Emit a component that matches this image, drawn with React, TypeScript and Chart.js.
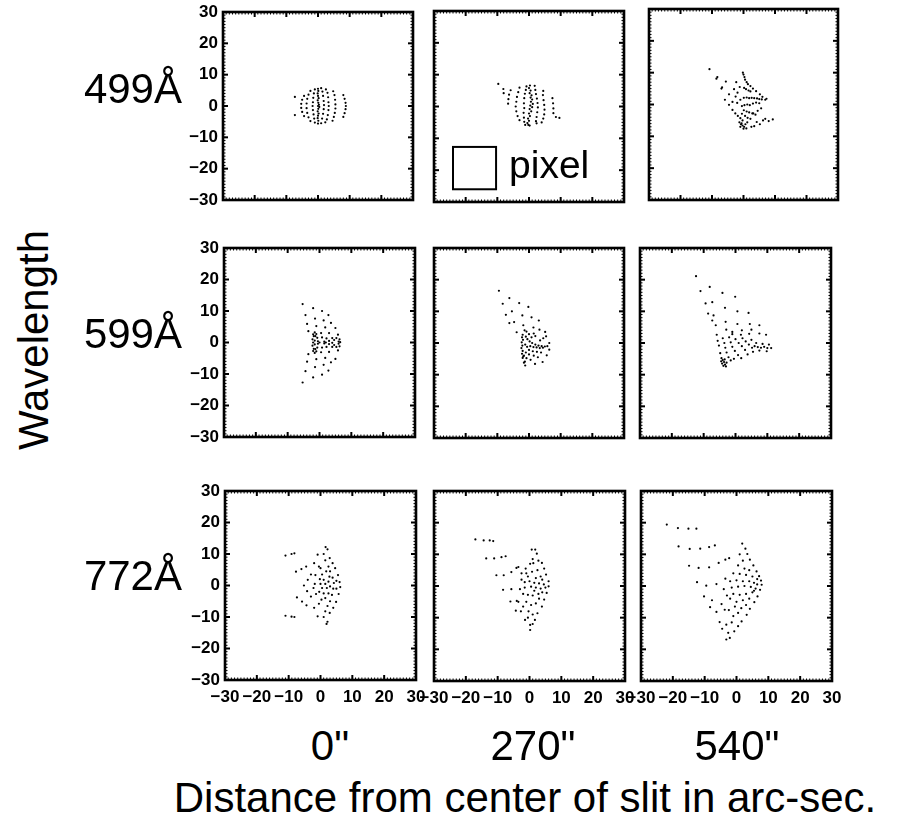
import React, { useEffect, useRef } from "react";
import { Chart, registerables } from "chart.js";
Chart.register(...registerables);

// ---------- labels ----------
const ROW_LABELS = ["499Å", "599Å", "772Å"];
const COL_LABELS = ['0"', '270"', '540"'];
const Y_TITLE = "Wavelength";
const X_TITLE = "Distance from center of slit in arc-sec.";
const TICK_VALUES = [-30, -20, -10, 0, 10, 20, 30];
const TICK_LABELS = ["−30", "−20", "−10", "0", "10", "20", "30"];
const PIXEL_LABEL = "pixel";
const PIXEL_BOX = [-24, -12.7, -10.4, -26]; // x0, y0, x1, y1 in arc-sec
const PIXEL_TEXT = [-6.3, -22.5];

// ---------- spot data (arc-sec) ----------
const P499_0 = [
  [8.0, 3.5], [8.4, 2.3], [8.7, 1.0], [8.8, 0], [8.7, -1.0], [8.4, -2.3], [8.0, -3.5],
  [4.8, 4.7], [5.2, 3.5], [5.4, 2.0], [5.5, 0.5], [5.5, -0.8], [5.3, -2.2], [5.0, -3.5], [4.6, -4.7],
  [2.5, 5.3], [3.0, 4.2], [3.2, 2.8], [3.3, 1.2], [3.4, 0], [3.3, -1.3], [3.1, -2.9], [2.8, -4.3], [2.3, -5.2],
  [1.0, 5.7], [1.4, 4.6], [1.6, 3.2], [1.8, 1.6], [1.9, 0.3], [1.8, -1.0], [1.6, -2.5], [1.3, -4.0], [1.0, -5.5],
  [0, 5.5], [0.1, 4.8], [-0.1, 4.0], [0, 3.2], [0.2, 2.5], [-0.1, 1.8], [0.1, 1.0], [0.3, 0.4], [0, 0], [0.4, -0.3],
  [0.1, -0.9], [-0.1, -1.7], [0.2, -2.4], [0, -3.1], [-0.1, -3.9], [0.1, -4.7], [0, -5.6],
  [-1.0, 5.3], [-1.3, 4.0], [-1.5, 2.6], [-1.6, 1.2], [-1.7, 0], [-1.6, -1.3], [-1.4, -2.7], [-1.2, -4.0], [-1.0, -5.3],
  [-2.4, 4.8], [-3.0, 3.6], [-3.4, 2.3], [-3.6, 0.8], [-3.6, -0.7], [-3.4, -2.2], [-3.0, -3.6], [-2.4, -4.8],
  [-4.4, 3.2], [-5.0, 2.0], [-5.3, 0.7], [-5.3, -0.6], [-5.0, -1.9], [-4.4, -3.2],
  [-7.3, 2.9], [-7.3, -2.9],
];

const P499_270 = [
  [0.3, 6.6], [0.0, 5.8], [0.5, 5.0], [0.2, 4.2], [0.8, 3.5], [0.5, 2.8], [1.0, 2.2], [0.6, 1.5], [1.2, 0.8], [0.4, 0.3],
  [1.0, -0.2], [0.2, -0.8], [0.7, -1.5], [0.0, -2.2], [0.3, -3.0], [-0.3, -3.8], [0.0, -4.5], [-0.5, -5.2], [-0.2, -5.8], [0.2, -6.0],
  [-0.8, 6.3], [-1.0, 5.2], [-1.3, 4.0], [-1.5, 2.6], [-1.6, 1.0], [-1.5, -0.5], [-1.7, -2.0], [-1.6, -3.5], [-1.5, -4.8], [-1.2, -5.8],
  [1.8, 6.5], [2.0, 5.2], [2.2, 3.9], [2.5, 2.5], [2.7, 1.1], [2.8, -0.3], [2.6, -1.8], [2.4, -3.3], [2.2, -4.6], [2.4, -5.3],
  [4.5, 4.9], [4.4, 3.6], [4.6, 2.0], [4.8, 0.5], [4.9, -1.0], [4.8, -2.5], [4.5, -3.8], [4.0, -5.0],
  [7.4, 2.6], [7.6, 1.0], [7.7, -0.6], [7.7, -2.1], [8.5, -3.3], [9.6, -3.6],
  [-3.0, 5.9], [-3.4, 4.5], [-3.8, 3.0], [-4.0, 1.5], [-4.2, 0], [-4.0, -1.5], [-3.6, -3.0], [-3.0, -4.3],
  [-5.8, 5.1], [-6.3, 3.7], [-6.5, 2.3], [-6.6, 0.9], [-8.1, 5.5], [-8.0, 4.2], [-9.7, 7.1],
];

const P499_540 = [
  [-0.2, 10.0], [0.0, 9.4], [0.3, 8.6], [0.5, 7.8], [1.0, 7.0],
  [-10.8, 11.1], [-8.6, 8.1], [-8.3, 8.6], [-5.6, 7.2], [-2.3, 7.0], [-7.0, 5.0], [-6.8, 5.4], [-4.6, 3.2], [-5.9, 1.5],
  [-1.9, 3.7], [-3.5, 0.8], [-2.0, 0.5],
  [1.4, 6.4], [2.2, 5.8], [3.0, 5.0], [4.0, 4.2], [5.2, 3.2], [6.0, 2.4], [6.9, 1.5], [7.3, 1.8],
  [0.1, 2.1], [1.0, 2.2], [1.8, 2.0], [2.6, 2.1], [3.4, 2.0], [4.3, 1.9], [5.0, 1.7], [5.8, 1.6],
  [0.2, 5.2], [0.8, 4.8], [1.6, 4.4], [2.2, 4.1],
  [-0.5, -0.5], [0.3, -0.2], [1.2, 0.0], [2.0, -0.2], [3.0, 0.3], [4.0, 0.6], [5.0, 0.4],
  [-4.6, -0.1], [-3.5, -1.7], [-2.6, -2.8], [-1.8, -3.6], [-1.0, -4.3], [-0.3, -5.0],
  [0.1, -1.8], [1.0, -2.2], [1.8, -2.5], [2.8, -2.8], [3.8, -3.2], [-0.5, -2.9], [0.5, -3.6], [1.3, -4.2], [2.2, -4.5],
  [-1.3, -5.6], [-0.8, -6.2], [-0.3, -6.6], [0.2, -7.0], [0.9, -7.5], [-1.0, -7.0], [0.0, -7.6], [-0.6, -5.9], [0.6, -6.2], [1.2, -5.6],
  [2.5, -7.0], [3.4, -6.8], [5.2, -6.2], [6.2, -5.0], [6.9, -4.5], [8.0, -5.2], [9.3, -4.7], [4.2, -5.5], [3.1, -2.8], [4.5, -2.0], [5.6, -1.2],
  [-2.5, 2.5], [-1.0, 1.5], [-3.0, 4.8], [-1.2, 5.5],
];

const P599_0 = [
  [-5.3, 12.2], [-2.0, 10.9], [0.8, 10.0], [2.8, 8.7], [-4.4, 8.7], [-1.4, 7.6], [1.3, 7.0], [3.6, 6.2], [-3.9, 5.9], [-1.0, 5.2],
  [1.8, 4.8], [5.0, 4.6], [-3.5, 3.6], [-1.5, 3.2], [0.5, 3.0], [3.0, 3.0], [5.8, 2.5], [-2.0, 2.6], [-1.3, 2.0], [-0.7, 1.5],
  [0.8, 1.6], [2.2, 1.3], [4.0, 1.4], [5.3, 1.4], [6.3, 1.0], [-2.2, 1.0], [-1.5, 0.6], [-0.5, 0.4], [1.5, 0.3], [3.0, 0.5], [6.0, 0.3], [4.6, 0.8],
  [-5.3, -12.7], [-2.0, -11.1], [0.8, -10.2], [2.8, -8.9], [-4.4, -9.1], [-1.4, -7.8], [1.3, -7.1], [3.6, -6.3], [-3.9, -6.1], [-1.0, -5.3],
  [1.8, -4.9], [5.0, -5.2], [-3.5, -3.7], [-1.5, -3.3], [0.5, -3.1], [3.0, -3.0], [5.8, -2.5], [-2.0, -2.7], [-1.3, -2.1], [-0.7, -1.6],
  [0.8, -1.6], [2.2, -1.4], [4.0, -1.4], [5.3, -1.4], [6.3, -1.2], [-2.2, -1.0], [-1.5, -0.6], [-0.5, -0.4], [1.5, -0.3], [3.0, -0.5], [6.0, -0.4], [4.6, -0.8],
  [-2.0, 0], [0.0, 0], [2.0, 0], [4.0, -0.1], [6.5, 0.1], [-1.8, 2.0], [-1.8, -2.0], [-1.0, 2.7], [-1.0, -2.8],
];

const P599_270 = [
  [-9.5, 16.5], [-6.2, 14.2], [-8.3, 12.4], [-3.1, 12.6], [-0.2, 11.4], [-7.3, 8.9], [-5.4, 10.0], [-2.1, 8.7], [0.8, 8.1], [3.1, 7.1],
  [-6.2, 6.3], [-4.7, 6.6], [-1.8, 5.6], [1.4, 4.9], [3.3, 4.2], [-3.9, 3.4], [5.1, 3.5], [5.4, 2.1], [6.4, 0.0], [6.4, -2.1],
  [5.6, -3.9], [4.3, -6.0], [1.9, -6.6], [-1.2, -7.1],
  [-2.0, 2.6], [-2.2, 1.8], [-1.9, 1.0], [-2.3, 0.2], [-2.1, -0.8], [-2.4, -1.6], [-2.0, -2.5], [-2.2, -3.4], [-1.8, -4.2], [-2.0, -4.7], [-1.6, -4.0],
  [-1.0, 2.0], [-0.5, 1.2], [0.2, 0.5], [1.0, 0.0], [2.0, -0.5], [3.0, -0.8], [4.0, -1.0], [5.0, -1.1], [5.8, -1.0],
  [-1.2, -0.5], [-0.6, -1.2], [0.4, -1.0], [1.4, -1.3], [2.4, -1.4], [3.4, -1.6], [4.4, -1.5],
  [0.0, -2.2], [1.2, -2.6], [2.5, -2.8], [3.8, -3.0], [-1.0, -3.0], [0.0, -3.6], [1.5, -4.0], [2.8, -4.5],
  [-0.8, -4.8], [0.5, -5.3], [-1.3, -5.9], [-1.6, -6.2], [0.8, 1.8], [2.0, 2.2], [3.5, 0.8], [4.5, 1.5],
  [0.0, 2.8], [1.5, 3.0], [-0.8, 3.6], [-1.4, 4.0],
];

const P599_540 = [
  [-12.4, 21.1], [-11.0, 16.4], [-8.1, 17.7], [-9.4, 12.5], [-7.3, 12.9], [-4.1, 15.8], [-0.1, 14.6], [-8.6, 9.3], [-6.9, 8.7],
  [-3.3, 11.1], [0.6, 10.0], [4.1, 9.5], [-7.3, 7.1], [-6.2, 5.6], [-3.1, 6.7], [0.6, 6.0], [4.5, 6.0], [7.5, 5.6],
  [-2.9, 4.2], [-1.0, 3.5], [1.7, 2.6], [4.3, 2.9], [7.5, 3.0], [9.6, 2.6], [-5.9, 2.6], [-5.6, 0.7], [-5.2, -0.8], [-4.8, -3.2],
  [-4.4, -4.8], [-4.0, -5.4], [-3.6, -6.0], [-4.2, -6.5], [-3.3, -6.8], [-3.8, -7.2], [-3.0, -7.4], [-4.5, -5.8], [-2.8, -6.2], [-3.4, -5.2],
  [-4.0, 1.5], [-3.5, 0.0], [-3.2, -1.5], [-2.8, -3.0], [-2.2, -4.5], [-1.5, -5.5], [-0.5, -5.0],
  [-2.0, 1.8], [-1.5, 0.2], [-1.0, -1.2], [-0.2, -2.5], [0.8, -3.8], [0.0, 1.2], [1.0, 0.0], [2.0, -1.0], [3.0, -2.2],
  [2.2, 1.5], [3.2, 0.5], [4.2, -0.5], [5.2, -1.5], [6.0, -1.0], [7.0, -1.3], [8.0, -1.5], [9.0, -1.2], [10.0, -1.6], [11.2, -1.6],
  [10.5, -0.5], [8.5, -0.3], [6.5, 0.0], [5.0, 1.0], [9.8, -2.6], [7.5, -2.4], [5.5, -2.8], [3.8, -3.6], [1.8, -4.8],
  [-1.0, 2.8], [2.0, 4.0], [5.0, 4.2],
];

const P772_0 = [
  [-11.0, 9.5], [-9.1, 10.0], [-8.2, 10.2], [-11.0, -9.6], [-9.1, -9.9], [-8.2, -10.0],
  [-7.7, 4.4], [-6.0, 5.2], [-4.5, 6.0], [-7.4, -3.8], [-5.8, -5.1], [-4.4, -6.3], [-5.2, 0.0], [-4.0, 1.8], [-4.2, -1.8], [-3.0, 3.5], [-3.0, -3.5],
  [-0.9, 9.8], [-0.9, -9.8], [-2.0, 7.1], [-2.0, -7.1], [-1.6, 3.3], [-1.4, -2.7], [-1.8, 0.5], [-2.2, -0.8],
  [1.6, 12.2], [2.2, 11.5], [2.9, 8.7], [3.8, 7.1], [4.6, 5.5], [5.5, 3.3], [6.0, 1.1], [6.2, -0.5], [5.7, -2.7], [4.9, -5.2],
  [4.0, -7.1], [2.9, -8.7], [2.2, -11.5], [1.9, -12.2],
  [1.0, 10.0], [1.5, 8.0], [2.5, 6.0], [3.0, 4.5], [3.8, 2.5], [4.2, 0.8], [4.0, -1.0], [3.6, -3.0], [3.0, -5.0], [2.2, -6.5], [1.5, -8.2], [1.0, -10.0],
  [0.0, 5.5], [0.5, 3.5], [1.0, 1.8], [1.5, 0.5], [2.0, -0.8], [1.0, -2.5], [0.3, -4.5], [-0.5, 6.0], [0.0, 0.5], [0.5, -0.8],
  [2.5, 1.2], [3.0, -0.3], [2.8, 2.8], [2.5, -2.5], [-0.5, -5.8], [5.0, 1.5], [5.0, -1.0], [-0.2, 2.0], [-0.4, -2.0], [1.8, 4.5], [1.5, -4.0],
];

const P772_270 = [
  [-17.0, 14.7], [-14.4, 14.4], [-12.5, 14.4], [-11.4, 14.2], [-13.6, 8.7], [-11.1, 8.7], [-8.8, 9.1], [-7.5, 9.4],
  [-10.4, 3.4], [-8.1, 3.4], [-5.7, 4.4], [-4.1, 5.7], [-3.5, 6.0], [-8.3, -1.2], [-5.7, -1.0], [-6.0, -4.9], [-4.0, -4.7], [-3.5, -5.0],
  [-4.3, -7.8], [-2.7, -8.0], [-1.4, -10.7], [0.2, -12.3], [0.2, -13.9], [0.7, 11.5], [1.8, 11.5], [2.3, 10.2], [0.2, 7.0], [1.2, 7.2],
  [3.9, 7.3], [4.6, 5.5], [5.2, 3.6], [6.0, 1.5], [6.0, -0.1], [5.4, -2.2], [4.6, -4.3], [3.9, -6.5], [2.5, -8.6], [1.7, -10.7], [1.0, -12.0],
  [-1.0, 4.0], [-0.5, 3.0], [0.8, 4.5], [2.5, 5.0], [3.5, 3.0], [-2.5, 2.0], [-1.5, 1.2], [0.0, 1.5], [1.5, 1.0], [3.0, 0.8], [4.5, 0.5],
  [-3.0, -1.0], [-1.5, -0.5], [0.5, -0.2], [2.0, -0.5], [3.5, -0.8], [5.0, -0.5], [-2.0, -2.5], [-0.5, -2.8], [1.0, -3.0], [2.8, -2.5],
  [4.0, -2.0], [-1.0, -5.0], [0.5, -6.0], [2.0, -5.5], [3.0, -4.0], [-0.3, -8.0], [1.0, -9.0], [-2.0, -6.5], [2.0, 2.5], [4.0, 2.0],
  [1.5, -1.5], [-1.2, 5.5], [-2.5, 4.0], [1.0, 8.5], [2.8, 8.0], [-0.5, -10.0],
];

const P772_540 = [
  [-21.9, 19.4], [-18.4, 18.3], [-15.1, 18.1], [-12.6, 18.1], [-18.2, 12.5], [-14.7, 11.7], [-11.4, 11.8], [-8.6, 12.3], [-6.8, 12.8],
  [-14.9, 6.4], [-11.9, 5.7], [-8.6, 5.9], [-5.6, 7.3], [-3.5, 8.3], [-2.3, 8.8], [-12.4, 1.2], [-9.5, 0.1], [-6.3, 0.6], [-3.5, 2.3],
  [-10.2, -3.3], [-7.7, -4.5], [-8.3, -6.7], [-6.3, -8.2], [-4.7, -5.7], [-3.7, -7.5], [-2.4, -7.6], [-5.3, -11.4], [-4.5, -13.5],
  [-3.2, -12.2], [-2.6, -14.8], [-3.2, -16.9], [-2.1, -16.4],
  [1.8, 13.4], [2.8, 11.8], [3.4, 10.1], [4.2, 8.3], [5.3, 6.5], [6.3, 4.6], [7.1, 3.1], [7.7, 1.7], [7.9, 0.4], [7.4, -1.2],
  [6.6, -3.3], [5.6, -5.1], [4.2, -7.2], [3.2, -9.1], [1.6, -11.2], [0.5, -12.7], [-0.7, -14.3],
  [1.0, 10.0], [2.0, 8.0], [0.5, 6.5], [2.5, 5.5], [4.0, 5.0], [-1.0, 4.0], [1.0, 3.8], [3.0, 3.5], [5.0, 3.0], [-2.0, 1.5],
  [0.0, 1.8], [2.0, 1.5], [4.0, 1.5], [5.5, 1.0], [6.5, 0.5], [-4.0, -1.0], [-1.5, -0.5], [0.5, -0.2], [2.5, 0.0], [4.5, -0.3],
  [6.0, -0.8], [-1.0, -2.5], [1.0, -2.8], [3.0, -2.5], [5.0, -2.0], [-2.0, -4.0], [0.0, -5.0], [2.0, -4.5], [4.0, -4.0],
  [-1.0, -9.5], [0.5, -8.5], [1.5, -7.0], [-1.5, -11.5], [-0.5, -6.5], [3.0, -6.0], [-3.0, -3.0], [6.5, 2.2], [5.5, -1.5],
];

const GRID_DATA = [
  [P499_0, P499_270, P499_540],
  [P599_0, P599_270, P599_540],
  [P772_0, P772_270, P772_540],
];

// ---------- layout (page pixels): left, top, width, height of each plot box ----------
const BOXES = [
  [[223, 12, 190, 188], [434, 11, 190, 191], [649, 9, 189, 191]],
  [[224, 248, 191, 189], [434, 248, 190, 190], [640, 248, 191, 190]],
  [[225, 491, 191, 189], [434, 491, 191, 190], [641, 491, 191, 190]],
];
const ROW_BASELINES = [103, 348, 590];
const COL_CENTERS = [330, 533, 737];

const TICK_FONT = { family: "'Liberation Sans', Arial, sans-serif", size: 17, weight: "bold" as const };
const BIG_FONT = "'Liberation Sans', Arial, Helvetica, sans-serif";

const framePlugin = {
  id: "frame",
  afterDatasetsDraw(chart: any) {
    const { ctx, chartArea: a, scales } = chart;
    const xs = scales.x, ys = scales.y;
    ctx.save();
    ctx.strokeStyle = "#000";
    ctx.lineCap = "butt";
    const seg = (x1: number, y1: number, x2: number, y2: number) => {
      ctx.beginPath(); ctx.moveTo(x1, y1); ctx.lineTo(x2, y2); ctx.stroke();
    };
    // minor ticks
    ctx.lineWidth = 1;
    for (let v = -30; v <= 30; v += 1) {
      const px = xs.getPixelForValue(v), py = ys.getPixelForValue(v);
      seg(px, a.bottom, px, a.bottom - 2.5); seg(px, a.top, px, a.top + 2.5);
      seg(a.left, py, a.left + 2.5, py); seg(a.right, py, a.right - 2.5, py);
    }
    // major ticks
    ctx.lineWidth = 2;
    TICK_VALUES.forEach((v) => {
      const px = xs.getPixelForValue(v), py = ys.getPixelForValue(v);
      seg(px, a.bottom, px, a.bottom - 5); seg(px, a.top, px, a.top + 5);
      seg(a.left, py, a.left + 5, py); seg(a.right, py, a.right - 5, py);
    });
    ctx.lineWidth = 2.6;
    ctx.strokeRect(a.left, a.top, a.right - a.left, a.bottom - a.top);
    ctx.restore();
  },
};

const pixelLegendPlugin = {
  id: "pixelLegend",
  afterDatasetsDraw(chart: any) {
    const { ctx, scales } = chart;
    const xs = scales.x, ys = scales.y;
    const x0 = xs.getPixelForValue(PIXEL_BOX[0]), y0 = ys.getPixelForValue(PIXEL_BOX[1]);
    const x1 = xs.getPixelForValue(PIXEL_BOX[2]), y1 = ys.getPixelForValue(PIXEL_BOX[3]);
    ctx.save();
    ctx.strokeStyle = "#000";
    ctx.lineWidth = 2;
    ctx.strokeRect(x0, y0, x1 - x0, y1 - y0);
    ctx.fillStyle = "#000";
    ctx.font = `39px ${BIG_FONT}`;
    ctx.textBaseline = "alphabetic";
    ctx.textAlign = "left";
    ctx.fillText(PIXEL_LABEL, xs.getPixelForValue(PIXEL_TEXT[0]), ys.getPixelForValue(PIXEL_TEXT[1]));
    ctx.restore();
  },
};

function Panel({ pts, box, showY, showX, legend }: any) {
  const ref = useRef<HTMLCanvasElement>(null);
  const padL = showY ? 52 : 22, padR = 22, padT = 10, padB = showX ? 36 : 8;
  const [bl, bt, bw, bh] = box;
  const W = bw + padL + padR, H = bh + padT + padB;
  useEffect(() => {
    const setTicks = (s: any) => { s.ticks = TICK_VALUES.map((v) => ({ value: v })); };
    const chart = new Chart(ref.current as HTMLCanvasElement, {
      type: "scatter",
      data: {
        datasets: [{
          data: pts.map((p: number[]) => ({ x: p[0], y: p[1] })),
          pointRadius: 1.1,
          pointHoverRadius: 1.1,
          backgroundColor: "#000",
          borderWidth: 0,
        }],
      },
      options: {
        responsive: false,
        animation: false,
        events: [],
        layout: { autoPadding: false, padding: { left: showY ? 0 : padL, right: padR, top: padT, bottom: showX ? 0 : padB } },
        plugins: { legend: { display: false }, tooltip: { enabled: false }, title: { display: false } },
        scales: {
          x: {
            type: "linear", min: -30, max: 30, display: showX, position: "bottom",
            grid: { display: false, drawTicks: false }, border: { display: false },
            afterBuildTicks: setTicks,
            ticks: { autoSkip: false, maxRotation: 0, minRotation: 0, padding: 7, color: "#000", font: TICK_FONT,
              callback: (_v: any, i: number) => TICK_LABELS[i] },
            afterFit: (s: any) => { if (showX) { s.height = padB; s.paddingLeft = 0; s.paddingRight = 0; } },
          },
          y: {
            type: "linear", min: -30, max: 30, display: showY, position: "left",
            grid: { display: false, drawTicks: false }, border: { display: false },
            afterBuildTicks: setTicks,
            ticks: { autoSkip: false, padding: 5, color: "#000", font: TICK_FONT,
              callback: (_v: any, i: number) => TICK_LABELS[i] },
            afterFit: (s: any) => { if (showY) { s.width = padL; s.paddingTop = 0; s.paddingBottom = 0; } },
          },
        },
      } as any,
      plugins: legend ? [framePlugin, pixelLegendPlugin] : [framePlugin],
    });
    return () => chart.destroy();
  }, []);
  return (
    <canvas ref={ref} width={W} height={H}
      style={{ position: "absolute", left: bl - padL, top: bt - padT, width: W, height: H }} />
  );
}

function BigText({ x, baseline, text, align }: any) {
  const shift = align === "right" ? "-100%" : align === "center" ? "-50%" : "0";
  return (
    <div style={{
      position: "absolute", left: x, top: baseline - 35.5, fontFamily: BIG_FONT, fontSize: 42,
      lineHeight: "42px", whiteSpace: "nowrap", color: "#000", transform: `translateX(${shift})`,
    }}>{text}</div>
  );
}

export default function App() {
  return (
    <div style={{ position: "absolute", left: 0, top: 0, width: 898, height: 825, background: "#fff", overflow: "hidden" }}>
      {GRID_DATA.map((row, r) => row.map((pts, c) => (
        <Panel key={`${r}-${c}`} pts={pts} box={BOXES[r][c]} showY={c === 0} showX={r === 2} legend={r === 0 && c === 1} />
      )))}
      {ROW_LABELS.map((t, r) => <BigText key={t} x={182} baseline={ROW_BASELINES[r]} text={t} align="right" />)}
      {COL_LABELS.map((t, c) => <BigText key={t} x={COL_CENTERS[c]} baseline={760} text={t} align="center" />)}
      <BigText x={525} baseline={812} text={X_TITLE} align="center" />
      <div style={{
        position: "absolute", left: 34, top: 340, fontFamily: BIG_FONT, fontSize: 42, lineHeight: "42px",
        whiteSpace: "nowrap", transform: "translate(-50%, -50%) rotate(-90deg)", color: "#000",
      }}>{Y_TITLE}</div>
    </div>
  );
}
